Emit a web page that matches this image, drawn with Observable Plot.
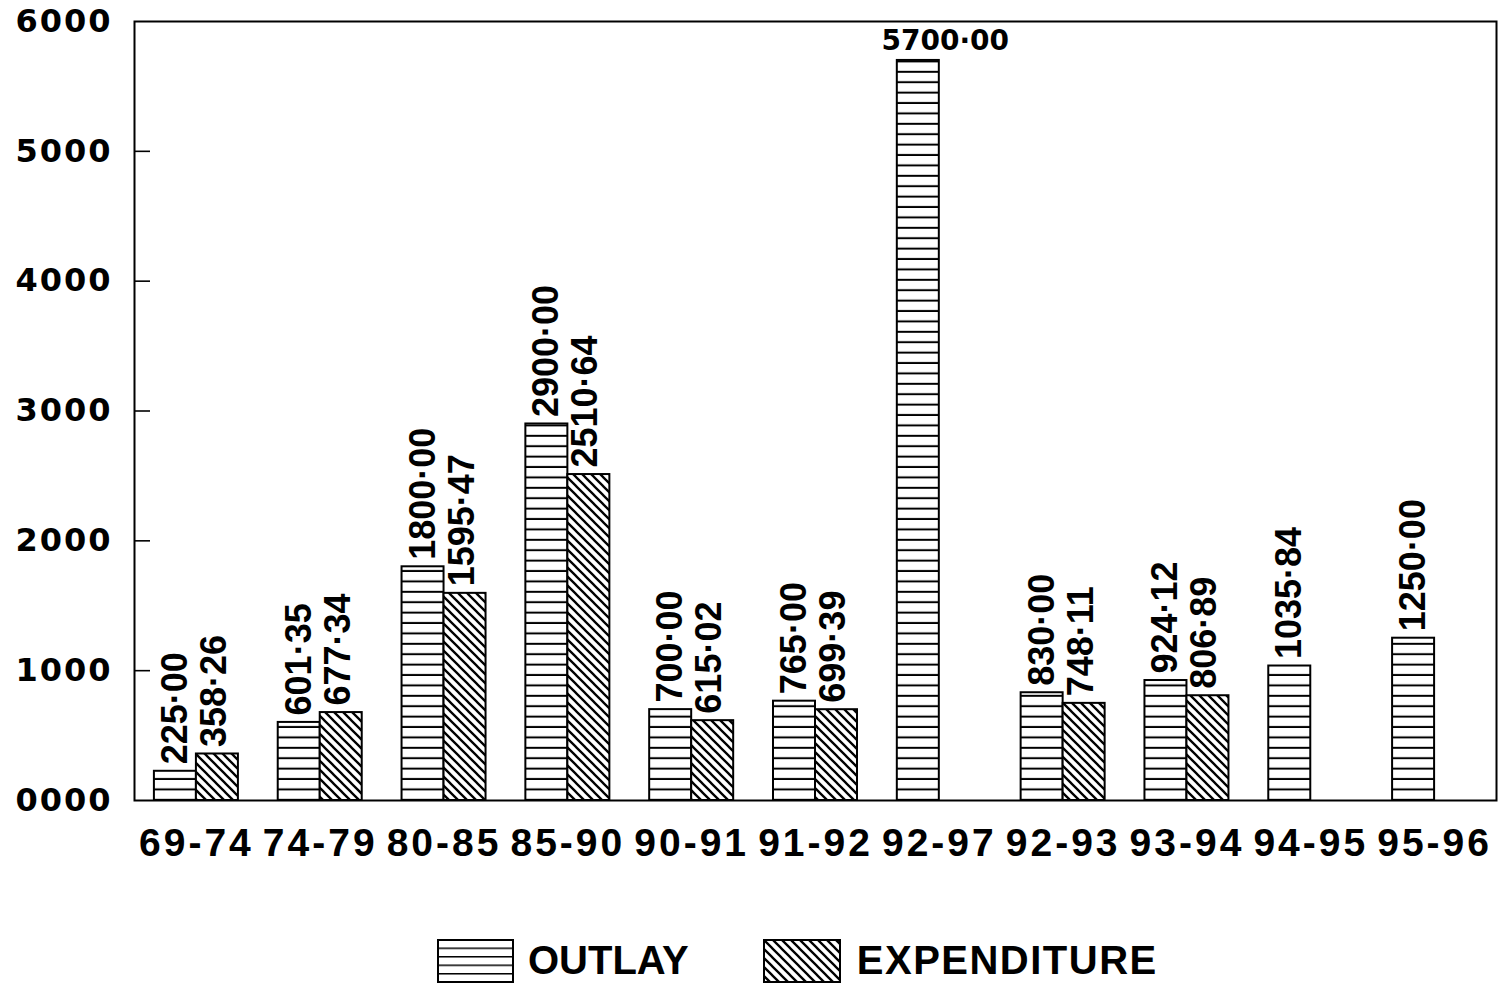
<!DOCTYPE html>
<html><head><meta charset="utf-8">
<script src="https://cdn.jsdelivr.net/npm/d3@7"></script>
<script src="https://cdn.jsdelivr.net/npm/@observablehq/plot@0.6"></script>
<style>
body{margin:0;background:#fff;}
#wrap{position:relative;width:1499px;height:985px;overflow:hidden;}
#legend{position:absolute;left:437px;top:938px;display:flex;align-items:center;font-family:"Liberation Sans",Arial,sans-serif;font-weight:bold;font-size:40px;color:#000;}
#legend .item{display:flex;align-items:center;}
#legend svg{display:block;}
</style></head><body>
<svg width="0" height="0" style="position:absolute"><defs>
<pattern id="hl" patternUnits="userSpaceOnUse" width="10" height="10.4"><rect width="10" height="10.4" fill="#fff"/><line x1="0" x2="10" y1="9.4" y2="9.4" stroke="#000" stroke-width="2"/></pattern>
<pattern id="dg" patternUnits="userSpaceOnUse" width="9" height="9"><rect width="9" height="9" fill="#fff"/><path d="M0,0L9,9M-3,6L3,12M6,-3L12,3" stroke="#000" stroke-width="2.3"/></pattern>
<pattern id="hlLeg" patternUnits="userSpaceOnUse" width="10" height="8.5"><rect width="10" height="8.5" fill="#fff"/><line x1="0" x2="10" y1="0" y2="0" stroke="#000" stroke-width="3"/></pattern>
</defs></svg>
<div id="wrap"><div id="chart"></div>
<div id="legend">
 <div class="item"><svg width="77" height="44"><rect x="1" y="1" width="75" height="42" fill="url(#hlLeg)" stroke="#000" stroke-width="2"/></svg><span style="margin-left:14px">OUTLAY</span></div>
 <div class="item" style="margin-left:74px"><svg width="78" height="44"><rect x="1" y="1" width="76" height="42" fill="url(#dg)" stroke="#000" stroke-width="2"/></svg><span style="margin-left:16px;letter-spacing:1.5px">EXPENDITURE</span></div>
</div></div>
<script>
const categories = ["69-74","74-79","80-85","85-90","90-91","91-92","92-97","92-93","93-94","94-95","95-96"];
const outlay = [225.00, 601.35, 1800.00, 2900.00, 700.00, 765.00, 5700.00, 830.00, 924.12, 1035.84, 1250.00];
const expenditure = [358.26, 677.34, 1595.47, 2510.64, 615.02, 699.39, null, 748.11, 806.89, null, null];
const yTicks = [0, 1000, 2000, 3000, 4000, 5000, 6000];

const W = 1499, H = 900;
const mL = 134, mR = 3, mT = 21, mB = H - 800;
const bw = (W - mL - mR) / categories.length;
const barW = 42, pad = (bw - 2 * barW) / 2;
const rows = categories.map((c, i) => ({cat: c, outlay: outlay[i], exp: expenditure[i]}));
const expRows = rows.filter(d => d.exp != null);
const maxOut = d3.max(outlay);
const fmt = v => d3.format(".2f")(v).replace(".", "·");
const labelFont = {fontFamily: "Liberation Sans, Arial, sans-serif", fontWeight: "bold", fontSize: 36};

const chart = Plot.plot({
  width: W, height: H,
  marginLeft: mL, marginRight: mR, marginTop: mT, marginBottom: mB,
  x: {domain: categories, padding: 0, round: false},
  y: {domain: [0, 6000]},
  style: {background: "white", color: "black", overflow: "visible"},
  marks: [
    Plot.barY(rows, {x: "cat", y: "outlay", fill: "url(#hl)", stroke: "black", strokeWidth: 2,
      insetLeft: pad, insetRight: bw - pad - barW}),
    Plot.barY(expRows, {x: "cat", y: "exp", fill: "url(#dg)", stroke: "black", strokeWidth: 2,
      insetLeft: pad + barW, insetRight: pad}),
    Plot.frame({stroke: "black", strokeWidth: 2}),
    Plot.tickY(yTicks.slice(1, -1), {y: d => d, x: () => categories[0], stroke: "black", strokeWidth: 1.6, insetRight: bw - 16}),
    Plot.axisY(yTicks, {tickSize: 0, tickPadding: 22, tickFormat: d3.format("04d"), label: null,
      fontFamily: "DejaVu Sans, sans-serif", fontWeight: "bold", fontSize: 32}),
    Plot.axisX({tickSize: 0, tickPadding: 28, label: null,
      fontFamily: "Liberation Sans, Arial, sans-serif", fontWeight: "bold", fontSize: 39}),
    Plot.text(rows.filter(d => d.outlay !== maxOut), {x: "cat", y: "outlay", text: d => fmt(d.outlay),
      rotate: -90, textAnchor: "start", lineAnchor: "middle", dx: pad + barW / 2 - bw / 2, dy: -7, fill: "black", ...labelFont}),
    Plot.text(expRows, {x: "cat", y: "exp", text: d => fmt(d.exp),
      rotate: -90, textAnchor: "start", lineAnchor: "middle", dx: pad + barW * 1.5 - bw / 2 - 3, dy: -7, fill: "black", ...labelFont}),
    Plot.text(rows.filter(d => d.outlay === maxOut), {x: "cat", y: "outlay", text: d => fmt(d.outlay),
      textAnchor: "middle", lineAnchor: "bottom", dx: 6, dy: -10, fill: "black",
      fontFamily: "DejaVu Sans, sans-serif", fontWeight: "bold", fontSize: 28})
  ]
});
document.getElementById("chart").appendChild(chart);
d3.select(chart).selectAll('g[aria-label="y-axis tick label"] text').style("letter-spacing", "2px");
d3.select(chart).selectAll('g[aria-label="x-axis tick label"] text').style("letter-spacing", "3px");
</script>
</body></html>
